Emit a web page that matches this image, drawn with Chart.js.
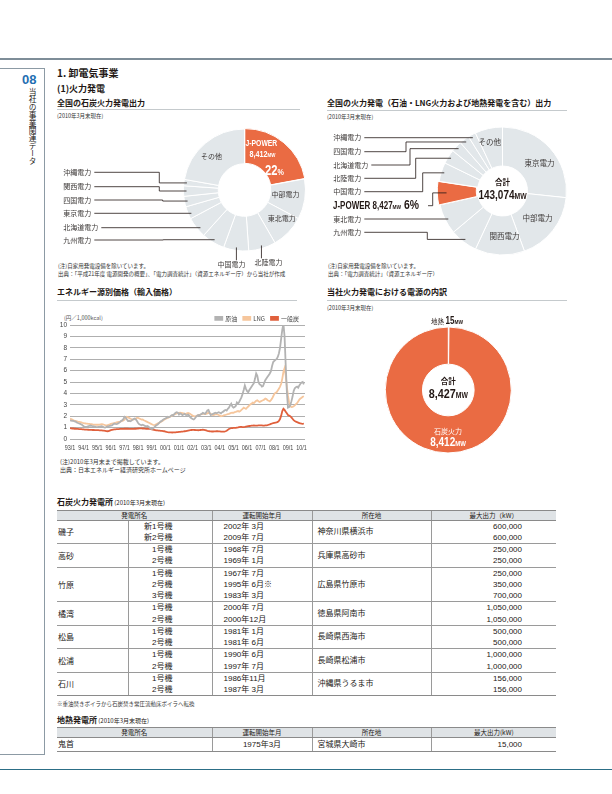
<!DOCTYPE html>
<html lang="ja"><head><meta charset="utf-8">
<script src="https://cdn.jsdelivr.net/npm/chart.js@4.4.1/dist/chart.umd.min.js"></script>
<style>
html,body{margin:0;padding:0;background:#fff}
body{width:612px;height:794px;position:relative;overflow:hidden;font-family:"Noto Sans CJK JP",sans-serif;color:#231815}
.a{position:absolute;white-space:nowrap;line-height:1}
.h1{font-size:10px;font-weight:bold}
.h2{font-size:9px;font-weight:bold}
.h3{font-size:8px;font-weight:bold}
.asof{font-size:5.5px;color:#333}
.note{font-size:5.5px;color:#333}
.rule{position:absolute;height:0;border-top:1px solid #c5cacd}
canvas{position:absolute}
table.tb{position:absolute;border-collapse:collapse;table-layout:fixed;font-family:"Liberation Sans","Noto Sans CJK JP",sans-serif;font-size:8px;color:#231815}
table.tb th{background:#dfe3e6;height:9px;padding:0;font-weight:normal;font-size:6.5px;font-family:"Noto Sans CJK JP",sans-serif;line-height:9px;border-top:1px solid #8a8a8a;border-bottom:1px solid #8a8a8a;border-left:1px solid #9a9a9a}
table.tb th:first-child{border-left:none}
table.tb td{padding:0;vertical-align:middle;border-left:1px solid #9a9a9a;border-bottom:1px solid #9a9a9a;line-height:11.25px}
table.tb td:first-child{border-left:none}
table.tb tr:last-child td{border-bottom:1px solid #8a8a8a}
td .ln{height:11.25px;line-height:11.25px;white-space:nowrap}
</style></head>
<body>
<div style="position:absolute;left:0;top:58px;width:612px;height:1.5px;background:#7e8d98"></div>
<div style="position:absolute;left:0;top:768.5px;width:612px;height:1.5px;background:#2c6e86"></div>
<div style="position:absolute;left:0;top:68px;width:45px;height:687px;border-top:1px solid #8c9aa4;border-right:1px solid #8c9aa4;border-bottom:1px solid #8c9aa4;box-sizing:border-box"></div>
<div class="a" style="left:22px;top:71.5px;font:bold 13px 'Liberation Sans',sans-serif;color:#1f6fb2">08</div>
<div class="a" style="left:28.5px;top:88px;font-size:7.7px;writing-mode:vertical-rl;color:#231815">当社の事業関連データ</div>

<div class="a h1" style="left:57px;top:68.3px">1. 卸電気事業</div>
<div class="a h2" style="left:57px;top:83.8px">(1)火力発電</div>

<div class="a h3" style="left:57px;top:99.3px">全国の石炭火力発電出力</div>
<div class="rule" style="left:57px;top:108.5px;width:243px"></div>
<div class="a asof" style="left:57px;top:114px">(2010年3月末現在)</div>

<div class="a h3" style="left:327px;top:99.3px">全国の火力発電（石油・LNG火力および地熱発電を含む）出力</div>
<div class="rule" style="left:327px;top:109.5px;width:240px"></div>
<div class="a asof" style="left:327px;top:115px">(2010年3月末現在)</div>

<div class="a note" style="left:58px;top:264px">(注)自家用発電設備を除いています。</div>
<div class="a note" style="left:58px;top:272.3px">出典：「平成21年度 電源開発の概要」、「電力調査統計」（資源エネルギー庁）から当社が作成</div>
<div class="a note" style="left:328px;top:264px">(注)自家用発電設備を除いています。</div>
<div class="a note" style="left:328px;top:272.3px">出典：「電力調査統計」（資源エネルギー庁）</div>

<div class="a h3" style="left:57px;top:288.3px">エネルギー源別価格（輸入価格）</div>
<div class="rule" style="left:57px;top:300px;width:240px"></div>
<div class="a" style="left:64px;top:315.5px;font-size:5.5px;color:#555">(円／1,000kcal)</div>
<div class="a note" style="left:60px;top:458.7px;font-size:6px">(注)2010年3月末まで掲載しています。</div>
<div class="a note" style="left:60px;top:467px;font-size:6px">出典：日本エネルギー経済研究所ホームページ</div>

<div class="a h3" style="left:327px;top:288.3px">当社火力発電における電源の内訳</div>
<div class="rule" style="left:327px;top:300px;width:240px"></div>
<div class="a asof" style="left:327px;top:305.5px">(2010年3月末現在)</div>

<div class="a" style="left:57px;top:498.3px;font-size:8px;font-weight:bold">石炭火力発電所<span style="font-size:6px;font-weight:normal"> (2010年3月末現在)</span></div>
<div class="a note" style="left:57px;top:702.2px">※重油焚きボイラから石炭焚き常圧流動床ボイラへ転換</div>
<div class="a" style="left:57px;top:716px;font-size:8px;font-weight:bold">地熱発電所<span style="font-size:6px;font-weight:normal"> (2010年3月末現在)</span></div>

<canvas id="c1" width="265" height="165" style="left:55px;top:120px"></canvas>
<canvas id="c2" width="292" height="165" style="left:320px;top:120px"></canvas>
<canvas id="c3" width="292" height="180" style="left:320px;top:300px"></canvas>
<canvas id="c4" width="258" height="150" style="left:55px;top:305px"></canvas>

<table class="tb" id="coalTable" style="left:57px;top:509.5px;width:499px"></table>
<table class="tb" id="geoTable" style="left:57px;top:727px;width:499px"></table>

<script>
// ---------------- DATA ----------------
const coalCompanies = ['J-POWER','中部電力','東北電力','北陸電力','中国電力','九州電力','北海道電力','東京電力','四国電力','関西電力','沖縄電力','その他'];
const coalMW = [8412,4075,3386,2751,2540,2328,2116,1270,1058,1058,635,8464];

const thermalCompanies = ['東京電力','中部電力','関西電力','九州電力','東北電力','J-POWER','中国電力','北陸電力','北海道電力','四国電力','沖縄電力','その他'];
const thermalMW = [38150,25430,17880,9935,10930,8427,6875,5170,3975,3575,2780,9947];

const sourceNames = ['地熱','石炭火力'];
const sourceMW = [15,8412];

const priceTickLabels = ['93/1','94/1','95/1','96/1','97/1','98/1','99/1','00/1','01/1','02/1','03/1','04/1','05/1','06/1','07/1','08/1','09/1','10/1'];
const seriesNames = ['原油','LNG','一般炭'];
// monthly, 1993/1 - 2010/3
const crudeOil = [
1.65,1.62,1.60,1.58,1.55,1.52,1.45,1.40,1.36,1.33,1.28,1.20,
1.12,1.08,1.06,1.08,1.12,1.15,1.18,1.16,1.12,1.10,1.08,1.06,
1.05,1.07,1.08,1.10,1.12,1.08,1.02,1.00,1.05,1.10,1.12,1.15,
1.18,1.20,1.28,1.35,1.32,1.30,1.35,1.40,1.48,1.58,1.65,1.75,
1.95,1.90,1.72,1.58,1.60,1.55,1.60,1.68,1.75,1.80,1.72,1.58,
1.40,1.30,1.25,1.20,1.25,1.20,1.15,1.10,1.15,1.10,1.00,0.92,
0.88,0.90,1.00,1.10,1.20,1.25,1.35,1.45,1.55,1.60,1.70,1.75,
1.80,1.85,1.95,1.90,1.95,2.05,2.10,2.08,2.20,2.30,2.35,2.30,
2.15,2.25,2.20,2.10,2.15,2.20,2.12,2.10,2.15,2.05,1.90,1.82,
1.75,1.72,1.80,1.95,2.05,2.10,2.08,2.15,2.20,2.30,2.25,2.20,
2.35,2.50,2.55,2.30,2.10,2.15,2.20,2.25,2.30,2.25,2.30,2.35,
2.30,2.25,2.35,2.40,2.50,2.55,2.50,2.65,2.75,2.95,3.10,2.85,
2.75,2.80,2.90,3.20,3.10,3.25,3.45,3.65,3.95,4.30,4.70,4.40,
4.20,4.10,4.30,4.45,4.60,4.75,4.90,5.30,5.75,5.55,5.00,4.80,
4.75,4.60,4.65,4.90,5.15,5.30,5.45,5.60,5.75,5.95,6.40,6.75,
6.85,6.95,7.00,7.20,7.50,8.00,8.80,9.60,10.10,9.00,6.50,4.20,
2.75,2.80,2.95,3.30,3.70,4.20,4.45,4.55,4.60,4.50,4.70,4.85,
4.95,5.00,4.80];
const lng = [
1.80,1.75,1.70,1.65,1.60,1.58,1.55,1.52,1.50,1.48,1.45,1.42,
1.40,1.38,1.36,1.35,1.33,1.32,1.30,1.30,1.28,1.27,1.26,1.25,
1.25,1.25,1.26,1.28,1.30,1.28,1.25,1.22,1.20,1.22,1.25,1.28,
1.32,1.35,1.38,1.40,1.42,1.45,1.48,1.50,1.52,1.55,1.58,1.62,
1.70,1.85,1.95,1.90,1.85,1.80,1.75,1.72,1.70,1.75,1.80,1.85,
1.85,1.80,1.75,1.70,1.72,1.65,1.60,1.55,1.50,1.45,1.40,1.35,
1.30,1.25,1.22,1.25,1.30,1.35,1.40,1.45,1.50,1.55,1.62,1.70,
1.75,1.80,1.85,1.90,1.95,2.00,2.05,2.10,2.15,2.20,2.25,2.28,
2.30,2.32,2.30,2.28,2.25,2.22,2.20,2.25,2.28,2.25,2.20,2.12,
2.05,2.00,1.98,2.00,2.05,2.10,2.12,2.15,2.18,2.20,2.20,2.18,
2.20,2.25,2.30,2.28,2.20,2.15,2.10,2.12,2.15,2.18,2.15,2.10,
2.05,2.00,2.02,2.05,2.10,2.12,2.15,2.18,2.20,2.25,2.30,2.32,
2.30,2.35,2.38,2.42,2.45,2.40,2.45,2.55,2.65,2.75,2.70,2.65,
2.75,2.85,2.95,3.05,3.10,3.20,3.15,3.25,3.35,3.40,3.30,3.25,
3.30,3.35,3.40,3.45,3.55,3.50,3.40,3.35,3.30,3.40,3.55,3.75,
3.95,4.05,4.10,4.25,4.40,4.60,4.85,5.30,5.90,6.20,5.60,4.60,
3.80,3.20,2.90,2.80,2.82,2.88,2.95,3.05,3.15,3.30,3.45,3.55,
3.62,3.70,3.75];
const steamCoal = [
0.95,0.93,0.92,0.92,0.90,0.90,0.88,0.88,0.87,0.86,0.86,0.85,
0.84,0.83,0.82,0.82,0.81,0.80,0.80,0.80,0.79,0.79,0.78,0.78,
0.78,0.77,0.76,0.76,0.75,0.74,0.73,0.72,0.70,0.68,0.70,0.74,
0.78,0.80,0.82,0.84,0.85,0.86,0.87,0.87,0.88,0.88,0.88,0.89,
0.90,0.90,0.90,0.90,0.89,0.89,0.88,0.88,0.89,0.90,0.90,0.91,
0.92,0.93,0.94,0.93,0.92,0.92,0.91,0.90,0.90,0.90,0.89,0.88,
0.85,0.82,0.80,0.78,0.76,0.75,0.74,0.73,0.72,0.71,0.70,0.68,
0.65,0.62,0.60,0.59,0.58,0.58,0.57,0.58,0.58,0.59,0.60,0.61,
0.62,0.63,0.64,0.65,0.66,0.68,0.70,0.72,0.74,0.76,0.78,0.79,
0.80,0.80,0.79,0.78,0.78,0.77,0.78,0.79,0.80,0.81,0.80,0.78,
0.75,0.72,0.70,0.68,0.67,0.66,0.66,0.67,0.67,0.68,0.68,0.67,
0.66,0.65,0.64,0.64,0.65,0.68,0.72,0.80,0.88,0.92,0.95,0.96,
0.97,0.98,0.98,1.00,1.02,1.05,1.06,1.06,1.05,1.05,1.06,1.08,
1.10,1.12,1.14,1.15,1.17,1.18,1.19,1.18,1.18,1.18,1.19,1.20,
1.20,1.19,1.18,1.18,1.19,1.20,1.22,1.25,1.28,1.32,1.36,1.40,
1.42,1.44,1.46,1.50,1.58,1.75,2.05,2.45,2.65,2.55,2.40,2.25,
2.10,2.05,2.00,1.90,1.78,1.65,1.58,1.52,1.48,1.44,1.40,1.36,
1.34,1.33,1.36];

const coalPlants = ['磯子','高砂','竹原','橘湾','松島','松浦','石川'];
const coalUnits = [['新1号機','新2号機'],['1号機','2号機'],['1号機','2号機','3号機'],['1号機','2号機'],['1号機','2号機'],['1号機','2号機'],['1号機','2号機']];
const coalStart = [['2002年 3月','2009年 7月'],['1968年 7月','1969年 1月'],['1967年 7月','1995年 6月※','1983年 3月'],['2000年 7月','2000年12月'],['1981年 1月','1981年 6月'],['1990年 6月','1997年 7月'],['1986年11月','1987年 3月']];
const coalLocation = ['神奈川県横浜市','兵庫県高砂市','広島県竹原市','徳島県阿南市','長崎県西海市','長崎県松浦市','沖縄県うるま市'];
const coalOutputKW = [[600000,600000],[250000,250000],[250000,350000,700000],[1050000,1050000],[500000,500000],[1000000,1000000],[156000,156000]];
const tableHeaders = ['発電所名','運転開始年月','所在地','最大出力（kW）'];
const geoPlants = ['鬼首'];
const geoStart = ['1975年3月'];
const geoLocation = ['宮城県大崎市'];
const geoOutputKW = [15000];

// ---------------- HELPERS ----------------
const CJK = '"Noto Sans CJK JP", sans-serif';
const LIB = '"Liberation Sans", "Noto Sans CJK JP", sans-serif';
const ORANGE = '#ea6b43';
const GRAYSLICE = '#e2e7ea';
const DARK = '#3e3a39';
const NX = 0.8; // horizontal condensing for numerals / latin
Chart.defaults.font.family = CJK;

const nb = (t, s) => ({ t, f: `bold ${s}px ${LIB}`, sx: NX });
const nr = (t, s) => ({ t, f: `${s}px ${LIB}`, sx: NX });
const cj = (t, s, w) => ({ t, f: `${w || ''} ${s}px ${CJK}`, sx: 1 });

function drawRuns(ctx, runs, x, y, align, color) {
  let w = 0;
  runs.forEach(r => { ctx.font = r.f; w += ctx.measureText(r.t).width * r.sx; });
  let cx = align === 'center' ? x - w / 2 : (align === 'right' ? x - w : x);
  ctx.textBaseline = 'alphabetic'; ctx.textAlign = 'left';
  runs.forEach(r => {
    ctx.font = r.f; ctx.fillStyle = r.c || color;
    const rw = ctx.measureText(r.t).width * r.sx;
    ctx.save(); ctx.translate(cx, y); ctx.scale(r.sx, 1); ctx.fillText(r.t, 0, 0); ctx.restore();
    cx += rw;
  });
  return w;
}
const lab = t => [cj(t, 7)];

const donutText = {
  id: 'donutText',
  afterDatasetsDraw(chart, _a, opts) {
    const ctx = chart.ctx;
    const meta = chart.getDatasetMeta(0);
    const names = chart.data.labels;
    const layout = opts.layout || {};
    let C = null;
    ctx.save();
    ctx.strokeStyle = '#231815'; ctx.lineWidth = 0.8;
    meta.data.forEach((arc, i) => {
      const p = arc.getProps(['x','y','startAngle','endAngle','innerRadius','outerRadius'], true);
      C = p;
      const L = layout[names[i]];
      if (!L) return;
      const a = (p.startAngle + p.endAngle) / 2;
      const pt = r => ({ x: p.x + r * Math.cos(a), y: p.y + r * Math.sin(a) });
      const color = L.color || DARK;
      if (L.mode === 'in') {
        const c = pt((p.innerRadius + p.outerRadius) / 2);
        L.lines.forEach(ln => drawRuns(ctx, ln.runs, c.x + (ln.dx || 0), c.y + (ln.dy || 0) + 0.36 * ln.size, 'center', color));
      } else if (L.mode === 'h' || L.mode === 'elbow') {
        const w = drawRuns(ctx, L.runs, L.lx, L.ly + 0.36 * L.size, 'left', color);
        const x0 = L.lx + w + (L.gap || 3);
        const rt = p.outerRadius - (L.inset || 3);
        ctx.beginPath(); ctx.moveTo(x0, L.ly);
        if (L.mode === 'h') {
          const dy = L.ly - p.y;
          ctx.lineTo(p.x - Math.sqrt(Math.max(rt * rt - dy * dy, 0)), L.ly);
        } else {
          const t = pt(rt);
          ctx.lineTo(L.ex, L.ly); ctx.lineTo(L.ex, t.y); ctx.lineTo(t.x, t.y);
        }
        ctx.stroke();
      } else if (L.mode === 'down') {
        const t = pt(p.outerRadius - 3);
        ctx.beginPath(); ctx.moveTo(t.x, t.y); ctx.lineTo(t.x, L.ly - 4); ctx.stroke();
        drawRuns(ctx, L.runs, t.x + L.dx, L.ly + 0.36 * L.size, 'center', color);
      } else if (L.mode === 'above') {
        const t = pt(p.outerRadius);
        drawRuns(ctx, L.runs, t.x + (L.dx || 0), t.y - L.gap + 0.36 * L.size, 'center', color);
      }
    });
    if (opts.center && C) opts.center.forEach(ln => drawRuns(ctx, ln.runs, C.x + (ln.dx || 0), C.y + ln.dy + 0.36 * ln.size, 'center', ln.color || '#231815'));
    ctx.restore();
  }
};

// ---------------- DONUT 1 ----------------
const donut1Layout = {
  'J-POWER': { mode: 'in', color: '#fff', lines: [
    { dx: -11, dy: -14, size: 8.5, runs: [nb('J-POWER', 8.5)] },
    { dx: -10, dy: -3, size: 9, runs: [nb('8,412', 9), nb('MW', 5.5)] },
    { dx: 2, dy: 13, size: 14, runs: [nb('22', 14), nb('%', 9)] } ] },
  '中部電力': { mode: 'in', lines: [{ dx: -2, dy: -2, size: 7, runs: lab('中部電力') }] },
  '東北電力': { mode: 'in', lines: [{ dx: 6, dy: -2, size: 7, runs: lab('東北電力') }] },
  'その他': { mode: 'in', lines: [{ dx: -5, dy: 0, size: 7, runs: lab('その他') }] },
  '北陸電力': { mode: 'down', dx: 7, ly: 142.3, size: 7, runs: lab('北陸電力') },
  '中国電力': { mode: 'down', dx: -5, ly: 144.3, size: 7, runs: lab('中国電力') },
  '九州電力': { mode: 'elbow', lx: 8.3, ly: 120, ex: 108.3, size: 7, runs: lab('九州電力') },
  '北海道電力': { mode: 'h', lx: 8.3, ly: 107.7, size: 7, runs: lab('北海道電力') },
  '東京電力': { mode: 'h', lx: 8.3, ly: 93.3, size: 7, runs: lab('東京電力') },
  '四国電力': { mode: 'elbow', lx: 8.3, ly: 80, ex: 107.7, size: 7, runs: lab('四国電力') },
  '関西電力': { mode: 'elbow', lx: 8.3, ly: 66.7, ex: 104.3, size: 7, runs: lab('関西電力') },
  '沖縄電力': { mode: 'elbow', lx: 8.3, ly: 52.3, ex: 104.3, size: 7, runs: lab('沖縄電力') }
};
new Chart(document.getElementById('c1'), {
  type: 'doughnut',
  data: { labels: coalCompanies, datasets: [{
    data: coalMW,
    backgroundColor: coalCompanies.map(n => n === 'J-POWER' ? ORANGE : GRAYSLICE),
    borderColor: '#fff', borderWidth: 1,
    offset: coalCompanies.map(n => n === 'J-POWER' ? 2 : 0)
  }] },
  options: {
    responsive: false, animation: false, events: [],
    radius: 61, cutout: '43%',
    layout: { padding: { left: 114, right: 0, top: 0, bottom: 25 } },
    plugins: { legend: { display: false }, tooltip: { enabled: false }, donutText: { layout: donut1Layout } }
  },
  plugins: [donutText]
});

// ---------------- DONUT 2 ----------------
const donut2Layout = {
  '東京電力': { mode: 'in', lines: [{ dx: 4, dy: 2, size: 7.5, runs: [cj('東京電力', 7.5)] }] },
  '中部電力': { mode: 'in', lines: [{ dx: 0, dy: 0, size: 7.5, runs: [cj('中部電力', 7.5)] }] },
  '関西電力': { mode: 'in', lines: [{ dx: 4, dy: 1, size: 7.5, runs: [cj('関西電力', 7.5)] }] },
  'その他': { mode: 'in', lines: [{ dx: -3, dy: -5, size: 7.5, runs: [cj('その他', 7.5)] }] },
  '九州電力': { mode: 'elbow', lx: 13.3, ly: 112.3, ex: 107.3, size: 7, runs: lab('九州電力') },
  '東北電力': { mode: 'h', lx: 13.3, ly: 99, size: 7, runs: lab('東北電力') },
  'J-POWER': { mode: 'elbow', lx: 13, ly: 85.7, ex: 112.7, gap: 9, inset: 8, size: 10, color: '#231815',
    runs: [nb('J-POWER ', 10), nb('8,427', 10), nb('MW', 6), nb(' 6%', 13)] },
  '中国電力': { mode: 'elbow', lx: 13.3, ly: 71.7, ex: 102.7, size: 7, runs: lab('中国電力') },
  '北陸電力': { mode: 'elbow', lx: 13.3, ly: 58.3, ex: 95.7, size: 7, runs: lab('北陸電力') },
  '北海道電力': { mode: 'elbow', lx: 13.3, ly: 45, ex: 90, size: 7, runs: lab('北海道電力') },
  '四国電力': { mode: 'elbow', lx: 13.3, ly: 31.7, ex: 86, size: 7, runs: lab('四国電力') },
  '沖縄電力': { mode: 'h', lx: 13.3, ly: 17.7, size: 7, runs: lab('沖縄電力') }
};
new Chart(document.getElementById('c2'), {
  type: 'doughnut',
  data: { labels: thermalCompanies, datasets: [{
    data: thermalMW,
    backgroundColor: thermalCompanies.map(n => n === 'J-POWER' ? ORANGE : GRAYSLICE),
    borderColor: '#fff', borderWidth: 1,
    offset: thermalCompanies.map(n => n === 'J-POWER' ? 3 : 0)
  }] },
  options: {
    responsive: false, animation: false, events: [],
    radius: 64, cutout: '39%',
    layout: { padding: { left: 73, right: 0, top: 0, bottom: 23 } },
    plugins: { legend: { display: false }, tooltip: { enabled: false },
      donutText: { layout: donut2Layout, center: [
        { dy: -8.7, size: 7.5, runs: [cj('合計', 7.5, 'bold')] },
        { dy: 3.5, size: 12.5, runs: [nb('143,074', 12.5), nb('MW', 8.5)] } ] } }
  },
  plugins: [donutText]
});

// ---------------- DONUT 3 ----------------
const donut3Layout = {
  '地熱': { mode: 'above', gap: 7, dx: -1.6, size: 10, color: '#231815',
    runs: [cj('地熱 ', 6.5), nb('15', 10), nb('MW', 6)] },
  '石炭火力': { mode: 'in', color: '#fff', lines: [
    { dx: 0, dy: -2.8, size: 7, runs: [cj('石炭火力', 7)] },
    { dx: 0, dy: 7.6, size: 12, runs: [nb('8,412', 12.5), nb('MW', 7.5)] } ] }
};
new Chart(document.getElementById('c3'), {
  type: 'doughnut',
  data: { labels: sourceNames, datasets: [{
    data: sourceMW,
    backgroundColor: ['#ffffff', ORANGE],
    borderColor: ['#b5b5b5', '#ffffff'], borderWidth: [0.6, 1]
  }] },
  options: {
    responsive: false, animation: false, events: [],
    radius: 63, cutout: '41%',
    layout: { padding: { left: 0, right: 35.4, top: 0, bottom: 0 } },
    plugins: { legend: { display: false }, tooltip: { enabled: false },
      donutText: { layout: donut3Layout, center: [
        { dy: -8.3, size: 7.5, runs: [cj('合計', 7.5, 'bold')] },
        { dy: 3.5, size: 13.5, runs: [nb('8,427', 13.5), nb('MW', 8.5)] } ] } }
  },
  plugins: [donutText]
});

// ---------------- LINE CHART ----------------
const legendHeight = {
  id: 'legendHeight',
  beforeInit(chart) {
    if (!chart.legend) return;
    const fit = chart.legend.fit;
    chart.legend.fit = function () { fit.call(this); this.height = 15.7; };
  }
};
// x tick labels drawn condensed at the positions given by the library's x scale
const condensedXTicks = {
  id: 'condensedXTicks',
  afterDraw(chart) {
    const s = chart.scales.x, ctx = chart.ctx;
    ctx.save();
    s.ticks.forEach(t => {
      const label = priceTickLabels[t.value / 12];
      if (!label) return;
      drawRuns(ctx, [nr(label, 6.8)], s.getPixelForValue(t.value), chart.chartArea.bottom + 11, 'center', '#444');
    });
    ctx.restore();
  }
};
const seriesColors = ['#b3b3b3', '#f6c69c', '#e0603c'];
const seriesData = [crudeOil, lng, steamCoal];
new Chart(document.getElementById('c4'), {
  type: 'line',
  data: { datasets: seriesNames.map((n, k) => ({
    label: n,
    data: seriesData[k].map((v, i) => ({ x: i, y: v })),
    borderColor: seriesColors[k], backgroundColor: seriesColors[k],
    borderWidth: 1.8, pointRadius: 0, tension: 0
  })) },
  options: {
    responsive: false, animation: false, events: [],
    layout: { padding: { left: 0, right: 8, top: 4.3, bottom: 0 } },
    scales: {
      x: { type: 'linear', min: 0, max: 207,
        afterBuildTicks: s => { s.ticks = priceTickLabels.map((_, k) => ({ value: k * 12 })); },
        afterFit: s => { s.height = 16; },
        grid: { display: false, drawTicks: false }, border: { display: false },
        ticks: { display: false, autoSkip: false } },
      y: { min: 0, max: 10,
        afterFit: s => { s.width = 15; },
        grid: { color: '#9a9a9a', lineWidth: 0.8, drawTicks: false }, border: { display: false },
        ticks: { stepSize: 1, padding: 3, color: '#444', font: { family: '"Liberation Sans", sans-serif', size: 6.5 } } }
    },
    plugins: {
      tooltip: { enabled: false },
      legend: { position: 'top', align: 'end',
        labels: { boxWidth: 7, boxHeight: 3, padding: 6, color: '#444', font: { family: CJK, size: 6 } } }
    }
  },
  plugins: [legendHeight, condensedXTicks]
});

// ---------------- TABLES ----------------
const fmt = n => n.toLocaleString('en-US');
const colgroup = '<colgroup><col style="width:71px"><col style="width:84px"><col style="width:100px"><col style="width:119px"><col style="width:125px"></colgroup>';
function lines(arr, style) { return arr.map(t => `<div class="ln" style="${style}">${t}</div>`).join(''); }
let html = colgroup + '<tr><th colspan="2">' + tableHeaders[0] + '</th><th>' + tableHeaders[1] + '</th><th>' + tableHeaders[2] + '</th><th>' + tableHeaders[3] + '</th></tr>';
coalPlants.forEach((p, i) => {
  html += '<tr>' +
    `<td style="padding-left:1px;font-family:'Noto Sans CJK JP'">${p}</td>` +
    `<td>${lines(coalUnits[i], 'text-align:right;padding-right:39px')}</td>` +
    `<td>${lines(coalStart[i], 'padding-left:11px')}</td>` +
    `<td style="padding-left:5px">${coalLocation[i]}</td>` +
    `<td>${lines(coalOutputKW[i].map(fmt), 'text-align:right;padding-right:34px')}</td></tr>`;
});
document.getElementById('coalTable').innerHTML = html;
let g = colgroup + '<tr><th colspan="2">' + tableHeaders[0] + '</th><th>' + tableHeaders[1] + '</th><th>' + tableHeaders[2] + '</th><th>最大出力(kW)</th></tr>';
geoPlants.forEach((p, i) => {
  g += '<tr>' +
    `<td colspan="2" style="padding-left:1px;height:13px">${p}</td>` +
    `<td style="text-align:center">${geoStart[i]}</td>` +
    `<td style="padding-left:5px">${geoLocation[i]}</td>` +
    `<td style="text-align:right;padding-right:34px">${fmt(geoOutputKW[i])}</td></tr>`;
});
document.getElementById('geoTable').innerHTML = g;
</script>
</body></html>
